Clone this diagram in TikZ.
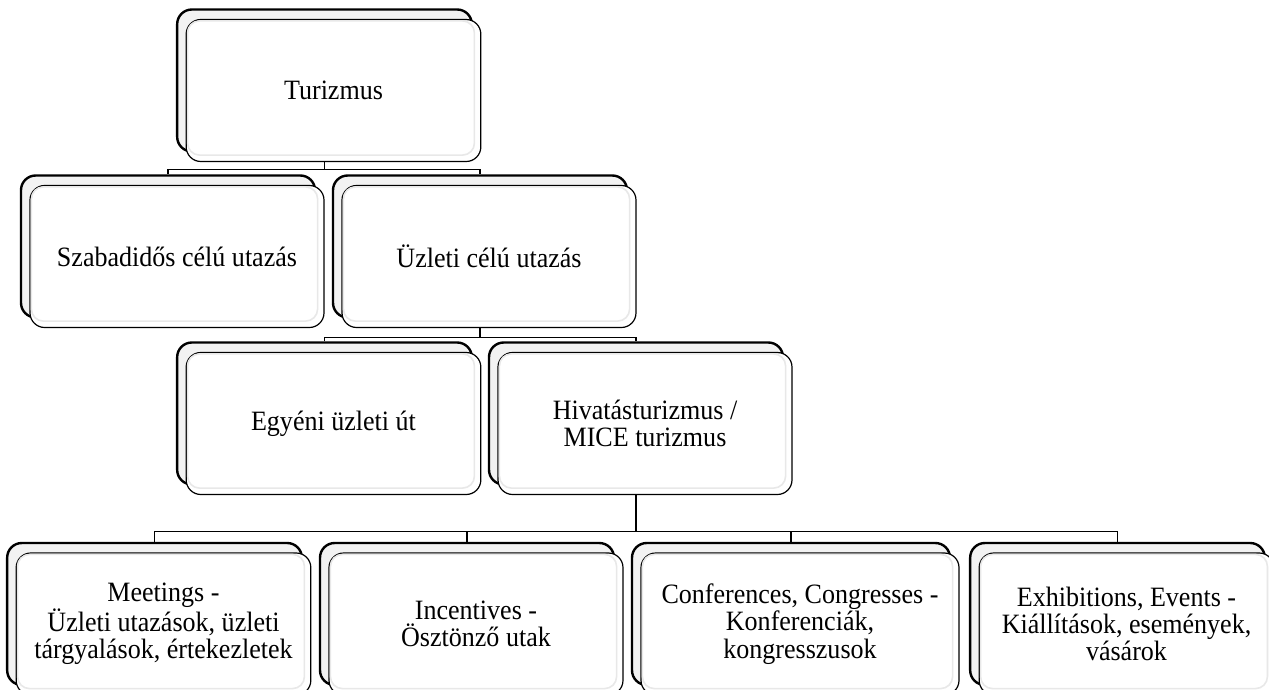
\documentclass[tikz,border=0pt]{standalone}
\usepackage{fontspec}
\setmainfont{Liberation Serif}[FakeStretch=0.93]
\usetikzlibrary{backgrounds}

\tikzset{
  cardback/.style={draw=black, line width=1.8pt, fill=gray!10, rounded corners=11pt,
    minimum width=#1, minimum height=106.5pt, inner sep=0pt},
  card/.style={draw=black, line width=0.9pt, fill=white, rounded corners=11pt,
    minimum width=#1, minimum height=106.5pt, inner sep=0pt, align=center,
    font=\fontsize{21}{20.5}\selectfont},
  bevel/.style={draw=gray!18, line width=1.2pt, rounded corners=9pt},
  link/.style={draw=black, line width=0.8pt},
}

\begin{document}
\begin{tikzpicture}[x=0.75pt, y=-0.75pt]
  \useasboundingbox (0,0) rectangle (1269,689);

  % level 1
  \node[cardback=221pt] (turb) at (324.5,80.5) {};
  \node[card=221pt] (tur) at (333.5,90.5) {Turizmus};

  % level 2
  \node[cardback=220.5pt] (szabb) at (168,246.5) {};
  \node[card=220.5pt] (szab) at (177,256.5) {Szabadidős célú utazás};
  \node[cardback=220.5pt] (uzlb) at (480,246.5) {};
  \node[card=220.5pt] (uzl) at (489,256.5) {Üzleti célú utazás};

  % level 3
  \node[cardback=221pt] (egyb) at (324.5,413.5) {};
  \node[card=221pt] (egy) at (333.5,423.5) {Egyéni üzleti út};
  \node[cardback=220.5pt] (hivb) at (636,413.5) {};
  \node[card=220.5pt] (hiv) at (645,423.5) {Hivatásturizmus /\\MICE turizmus};

  % level 4
  \node[cardback=221pt] (meetb) at (154.5,614) {};
  \node[card=221pt] (meet) at (163.5,624)
    {Meetings -\\Üzleti utazások, üzleti\\tárgyalások, értekezletek};
  \node[cardback=220.5pt] (incb) at (467,614) {};
  \node[card=220.5pt] (inc) at (476,624) {Incentives -\\Ösztönző utak};
  \node[cardback=238.5pt] (confb) at (791,614) {};
  \node[card=238.5pt] (conf) at (800,624)
    {Conferences, Congresses -\\Konferenciák,\\kongresszusok};
  \node[cardback=221pt] (exhb) at (1117.5,614) {};
  \node[card=221pt] (exh) at (1126.5,624)
    {Exhibitions, Events -\\Kiállítások, események,\\vásárok};

  % soft inner edge on the cards
  \foreach \n in {tur,szab,uzl,egy,hiv,meet,inc,conf,exh}
    \draw[bevel] ([shift={(2,2)}]\n.north west) rectangle ([shift={(-7,-7)}]\n.south east);

  % tree lines behind the cards
  \begin{scope}[on background layer]
    \draw[link] (turb.south) -- ++(0,17) -| (szabb.north);
    \draw[link] (turb.south) -- ++(0,17) -| (uzlb.north);
    \draw[link] (uzlb.south) -- ++(0,18.5) -| (egyb.north);
    \draw[link] (uzlb.south) -- ++(0,18.5) -| (hivb.north);
    \draw[link] (hivb.south) -- ++(0,46) -| (meetb.north);
    \draw[link] (hivb.south) -- ++(0,46) -| (incb.north);
    \draw[link] (hivb.south) -- ++(0,46) -| (confb.north);
    \draw[link] (hivb.south) -- ++(0,46) -| (exhb.north);
  \end{scope}
\end{tikzpicture}
\end{document}
